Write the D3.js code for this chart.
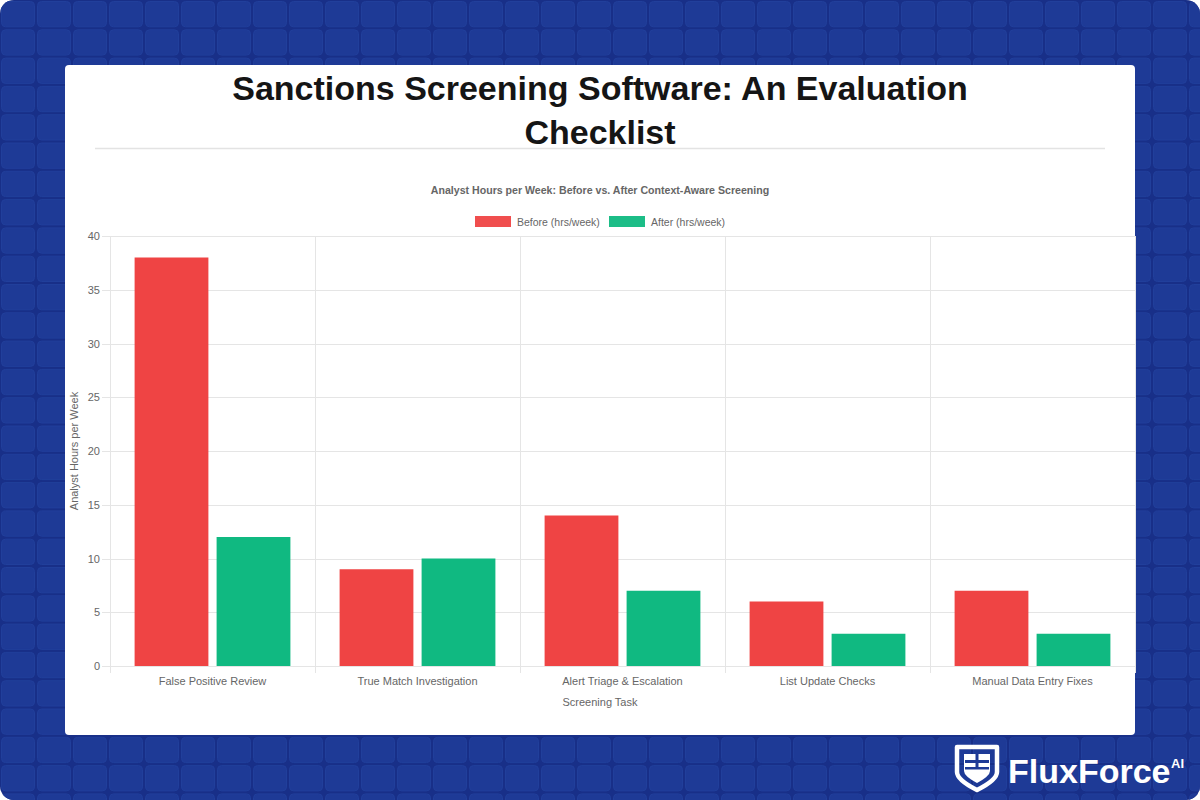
<!DOCTYPE html>
<html><head><meta charset="utf-8">
<script src="https://cdn.jsdelivr.net/npm/d3@7"></script>
<style>html,body{margin:0;padding:0;background:#fff;}svg{display:block;}</style>
</head><body>
<svg id="c" width="1200" height="800"></svg>
<script>
const categories = ["False Positive Review","True Match Investigation","Alert Triage & Escalation","List Update Checks","Manual Data Entry Fixes"];
const beforeValues = [38, 9, 14, 6, 7];
const afterValues = [12, 10, 7, 3, 3];
const seriesNames = ["Before (hrs/week)", "After (hrs/week)"];
const yTicks = [0, 5, 10, 15, 20, 25, 30, 35, 40];

(function(){
const svg = d3.select("#c");
const font = "Helvetica, Arial, 'Liberation Sans', sans-serif";

// background
const defs = svg.append("defs");
const clip = defs.append("clipPath").attr("id","bgclip");
clip.append("rect").attr("width",1200).attr("height",800).attr("rx",14);
const bg = svg.append("g").attr("clip-path","url(#bgclip)");
bg.append("rect").attr("width",1200).attr("height",800).attr("fill","#182f88");
const tw = 36, th = 28.3;
for (let yy = 0; yy < 800; yy += th) {
  for (let xx = 0; xx < 1200; xx += tw) {
    bg.append("rect").attr("x", xx+1.5).attr("y", yy+1.5).attr("width", tw-3).attr("height", th-3)
      .attr("rx",4).attr("fill","#1e3a96").attr("stroke","#213f9b").attr("stroke-width",1);
  }
}

// card
svg.append("rect").attr("x",65).attr("y",65).attr("width",1070).attr("height",670).attr("rx",4).attr("fill","#fff");

// title
svg.append("text").attr("x",600).attr("y",100).attr("text-anchor","middle")
  .attr("font-family",font).attr("font-weight","bold").attr("font-size",34).attr("fill","#151515")
  .text("Sanctions Screening Software: An Evaluation");
svg.append("text").attr("x",600).attr("y",144).attr("text-anchor","middle")
  .attr("font-family",font).attr("font-weight","bold").attr("font-size",34).attr("fill","#151515")
  .text("Checklist");
svg.append("line").attr("x1",95).attr("x2",1105).attr("y1",148.5).attr("y2",148.5).attr("stroke","#e3e3e3").attr("stroke-width",1.5);

// chart title
svg.append("text").attr("x",600).attr("y",194).attr("text-anchor","middle")
  .attr("font-family",font).attr("font-weight","bold").attr("font-size",10.6).attr("fill","#666")
  .text("Analyst Hours per Week: Before vs. After Context-Aware Screening");

const colors = ["#ef4444", "#10b981"];
// legend
const legendX = [475, 609];
seriesNames.forEach((n,i)=>{
  svg.append("rect").attr("x",legendX[i]).attr("y",216).attr("width",36).attr("height",11).attr("fill",colors[i]).attr("opacity",0.95);
  svg.append("text").attr("x",legendX[i]+42).attr("y",225.5).attr("font-family",font).attr("font-size",10.5).attr("fill","#666").text(n);
});

const pl = 110, pr = 1135, pt = 236, pb = 666;
const x = d3.scaleBand().domain(categories).range([pl,pr]).paddingInner(0).paddingOuter(0);
const y = d3.scaleLinear().domain([0,40]).range([pb,pt]);

// grid
const g = svg.append("g");
g.selectAll(".hg").data(yTicks).join("line").attr("x1",pl-8).attr("x2",pr)
  .attr("y1",d=>Math.round(y(d))+0.5).attr("y2",d=>Math.round(y(d))+0.5).attr("stroke","#e5e5e5");
const vlines = categories.map(c=>x(c)).concat([pr]);
g.selectAll(".vg").data(vlines).join("line").attr("x1",d=>Math.round(d)+0.5).attr("x2",d=>Math.round(d)+0.5)
  .attr("y1",pt).attr("y2",pb+7).attr("stroke","#e5e5e5");

// y axis labels
svg.append("g").attr("transform",`translate(${pl},0)`).call(d3.axisLeft(y).tickValues(yTicks).tickSize(0).tickPadding(10))
  .call(a=>{a.select(".domain").remove(); a.selectAll("text").attr("font-family",font).attr("font-size",11).attr("fill","#666");});
// x axis labels
svg.append("g").attr("transform",`translate(0,${pb})`).call(d3.axisBottom(x).tickSize(0).tickPadding(11))
  .call(a=>{a.select(".domain").remove(); a.selectAll("text").attr("font-family",font).attr("font-size",11).attr("fill","#666");});

// bars
const inner = d3.scaleBand().domain([0,1]).range([0, x.bandwidth()*0.8]).paddingInner(0.1).paddingOuter(0.05);
const off = x.bandwidth()*0.1;
[beforeValues, afterValues].forEach((vals,si)=>{
  svg.append("g").selectAll("rect").data(vals).join("rect")
    .attr("x",(d,i)=>x(categories[i])+off+inner(si)).attr("width",inner.bandwidth())
    .attr("y",d=>y(d)).attr("height",d=>y(0)-y(d)).attr("fill",colors[si]);
});

// axis titles
svg.append("text").attr("x",600).attr("y",706).attr("text-anchor","middle").attr("font-family",font).attr("font-size",11).attr("fill","#666").text("Screening Task");
svg.append("text").attr("transform","translate(78,451) rotate(-90)").attr("text-anchor","middle").attr("font-family",font).attr("font-size",11).attr("fill","#666").text("Analyst Hours per Week");

// logo
const lg = svg.append("g");
lg.append("path").attr("d","M957,747 L997,747 L997,772 Q997,780 977,790 Q957,780 957,772 Z").attr("fill","none").attr("stroke","#fff").attr("stroke-width",4.5).attr("stroke-linejoin","round");
lg.append("path").attr("d","M964,754 L990,754 L990,771 Q990,776 977,783 Q964,776 964,771 Z").attr("fill","#fff");
lg.append("rect").attr("x",965).attr("y",760).attr("width",24).attr("height",3).attr("fill","#1e3a96");
lg.append("rect").attr("x",975.5).attr("y",754).attr("width",3).attr("height",14).attr("fill","#1e3a96");
lg.append("rect").attr("x",965).attr("y",767).attr("width",24).attr("height",2.5).attr("fill","#1e3a96");
lg.append("text").attr("x",1008).attr("y",783).attr("font-family",font).attr("font-weight","bold").attr("font-size",34).attr("fill","#fff").text("FluxForce");
lg.append("text").attr("x",1171).attr("y",768).attr("font-family",font).attr("font-weight","bold").attr("font-size",13).attr("fill","#fff").text("AI");
})();
</script>
</body></html>
